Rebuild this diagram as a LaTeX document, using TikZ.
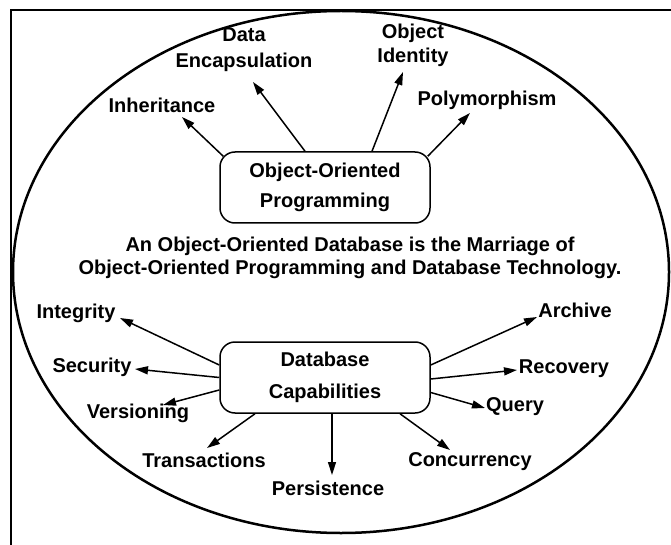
\documentclass[tikz,border=0pt]{standalone}
\usepackage{fontspec}
\setmainfont{Liberation Sans}
\usepackage{tikz}
\usetikzlibrary{arrows.meta}

\begin{document}
\begin{tikzpicture}[x=1pt,y=-1pt,
    every node/.style={font=\bfseries\fontsize{20}{24}\selectfont, align=center, inner sep=1pt},
    capbox/.style={draw, line width=1.5pt, rounded corners=15pt, minimum width=210pt, minimum height=71pt},
    arr/.style={line width=1.5pt, -{Triangle[length=13pt,width=8pt]}}]
    \useasboundingbox (0,0) rectangle (671,545);
    \draw[line width=2.5pt] (11,545) -- (11,10) -- (671,10);
    \draw[line width=2.5pt] (341,272) ellipse [x radius=328, y radius=261];

    \node[capbox] (oop) at (325,187.5) {Object-Oriented\\[6pt]Programming};
    \node[capbox] (db) at (325,377.5) {Database\\[8pt]Capabilities};
    \node (marriage) at (350,258) {An Object-Oriented Database is the Marriage of\\[-1pt]
        Object-Oriented Programming and Database Technology.};

    \node (inh) at (162,105) {Inheritance};
    \node (enc) at (244,50) {Data\\[2pt]Encapsulation};
    \node (ident) at (413,45) {Object\\Identity};
    \node (poly) at (487,100) {Polymorphism};

    \node (integ) at (76,313) {Integrity};
    \node (secu) at (92,367) {Security};
    \node (vers) at (138,413) {Versioning};
    \node (trans) at (204,460) {Transactions};
    \node (pers) at (328,488) {Persistence};
    \node (conc) at (470,462) {Concurrency};
    \node (query) at (515,407) {Query};
    \node (recov) at (564,369) {Recovery};
    \node (arch) at (575,310) {Archive};

    \draw[arr] ([shift={(4,5)}]oop.north west) -- ([shift={(20,12)}]inh.center);
    \draw[arr] ([shift={(-20,0)}]oop.north) -- ([shift={(9,32)}]enc.center);
    \draw[arr] ([shift={(47,0)}]oop.north) -- ([shift={(-10,27)}]ident.center);
    \draw[arr] ([shift={(-3,5)}]oop.north east) -- ([shift={(-17,13)}]poly.center);

    \draw[arr] ([shift={(0,-12.5)}]db.west) -- ([shift={(44,5)}]integ.center);
    \draw[arr] (db.west) -- ([shift={(43,2)}]secu.center);
    \draw[arr] ([shift={(0,12.5)}]db.west) -- ([shift={(25,-8)}]vers.center);
    \draw[arr] ([shift={(-70,0)}]db.south) -- ([shift={(3,-12)}]trans.center);
    \draw[arr] ([shift={(7,0)}]db.south) -- ([shift={(4,-13)}]pers.center);
    \draw[arr] ([shift={(75,0)}]db.south) -- ([shift={(-20,-12)}]conc.center);
    \draw[arr] ([shift={(0,15)}]db.east) -- ([shift={(-30,1)}]query.center);
    \draw[arr] ([shift={(0,1.5)}]db.east) -- ([shift={(-47,1)}]recov.center);
    \draw[arr] ([shift={(0,-12.5)}]db.east) -- ([shift={(-38,7)}]arch.center);
\end{tikzpicture}
\end{document}
